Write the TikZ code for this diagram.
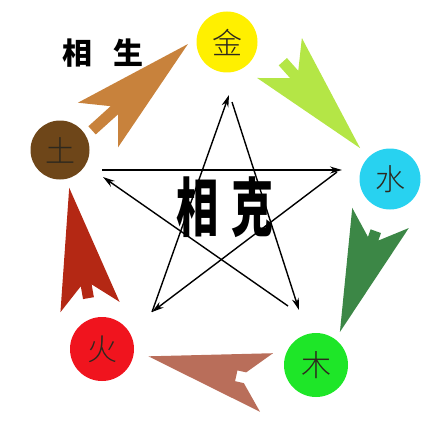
\documentclass[tikz,border=0pt]{standalone}
\usepackage{fontspec}
\usepackage{tikz}
\usetikzlibrary{positioning, calc, arrows.meta}
\newfontfamily\cjk{Noto Sans CJK SC}
\newfontfamily\cjkheavy{Noto Sans CJK SC Black}
\newfontfamily\cjklight{Noto Sans CJK SC Light}
\definecolor{jinC}{RGB}{255,240,0}
\definecolor{shuiC}{RGB}{40,210,240}
\definecolor{muC}{RGB}{30,230,40}
\definecolor{huoC}{RGB}{240,20,30}
\definecolor{tuC}{RGB}{110,70,25}
\definecolor{elemText}{RGB}{45,40,30}
\definecolor{tuArrow}{RGB}{200,130,60}
\definecolor{jinArrow}{RGB}{180,230,70}
\definecolor{shuiArrow}{RGB}{60,135,70}
\definecolor{muArrow}{RGB}{185,110,90}
\definecolor{huoArrow}{RGB}{180,40,20}

\begin{document}
\begin{tikzpicture}[x=1pt, y=-1pt, >={Stealth[length=12pt,width=7pt]},
					element/.style={circle, inner sep=0pt, text=elemText,
						font=\cjklight\fontsize{30}{30}\selectfont},
					ke/.style={->, line width=1.4pt},
					pics/sheng/.style 2 args={code={
						\fill[#1] (121,0) -- (0,30) -- (22,5.5) -- (#2,5.5)
							-- (#2,-5.5) -- (22,-5.5) -- (0,-30) -- cycle;}} ]
					\useasboundingbox (0,0) rectangle (443,425);
					
					%Elementos:
					\node[element, fill=jinC,  minimum size=61pt] (jin)  at (227,42)  {金};
					\node[element, fill=shuiC, minimum size=61pt] (shui) at (390,179) {水};
					\node[element, fill=muC,   minimum size=64pt] (mu)   at (316,365) {木};
					\node[element, fill=huoC,  minimum size=64pt] (huo)  at (102,349) {火};
					\node[element, fill=tuC,   minimum size=59pt] (tu)   at (60,150)  {土};
					
					%Setas do ciclo sheng: at (base) rotate (direcao)
					\pic[rotate=42]    at (98,125)    {sheng={tuArrow}{-8}};
					\pic[rotate=-48.2] at (279.5,58)  {sheng={jinArrow}{5}};
					\pic[rotate=-109.6] at (380.5,218) {sheng={shuiArrow}{14}};
					\pic[rotate=167.5] at (266.5,382.5) {sheng={muArrow}{31}};
					\pic[rotate=99.9]  at (90,307)    {sheng={huoArrow}{9}};
					
					\node[font=\cjkheavy\fontsize{30}{30}\selectfont] (shengLabel) at (103,53) {相\hspace{0.73em}生};
					\node (keLabel) at (225.5,207) {\scalebox{0.66}[1]{\cjkheavy\fontsize{64}{64}\selectfont 相\hspace{0.3em}克}};
					
					%Pontas da estrela:
					\coordinate (tuA)   at (102,170);
					\coordinate (tuB)   at (103,177);
					\coordinate (shuiA) at (342,170);
					\coordinate (shuiB) at (337,172);
					\coordinate (huoA)  at (152,312);
					\coordinate (jinA)  at (229,95);
					\coordinate (jinB)  at (232,102);
					\coordinate (muA)   at (299,310);
					\coordinate (muB)   at (288,306);
					
					\draw[ke] (tuA) -- (shuiA);
					\draw[ke] (shuiB) -- (huoA);
					\draw[ke] (huoA) -- (jinA);
					\draw[ke] (jinB) -- (muA);
					\draw[ke] (muB) -- (tuB);
				\end{tikzpicture}
\end{document}
